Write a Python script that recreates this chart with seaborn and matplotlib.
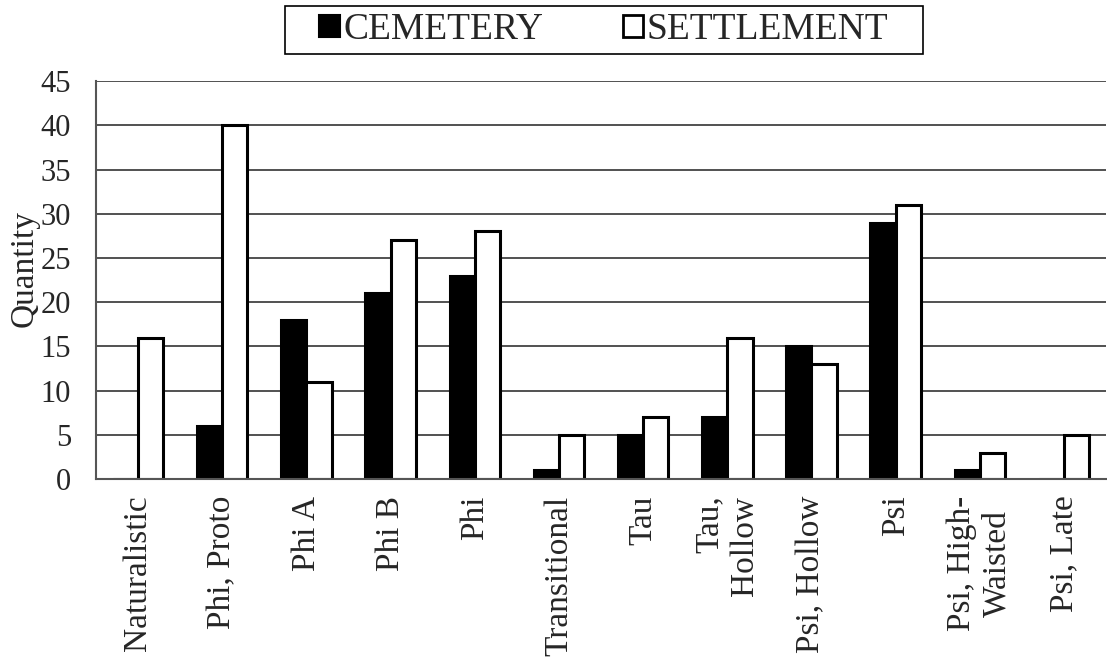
import pandas as pd
import numpy as np
import matplotlib
matplotlib.use("Agg")
import matplotlib.pyplot as plt
import seaborn as sns
from matplotlib.patches import Patch, Rectangle

categories = ["Naturalistic", "Phi, Proto", "Phi A", "Phi B", "Phi", "Transitional",
              "Tau", "Tau,\nHollow", "Psi, Hollow", "Psi", "Psi, High-\nWaisted", "Psi, Late"]
cemetery = [0, 6, 18, 21, 23, 1, 5, 7, 15, 29, 1, 0]
settlement = [16, 40, 11, 27, 28, 5, 7, 16, 13, 31, 3, 5]

df = pd.DataFrame({
    "Type": categories * 2,
    "Quantity": cemetery + settlement,
    "Site": ["CEMETERY"] * len(categories) + ["SETTLEMENT"] * len(categories),
})

sns.set_style("white")
plt.rcParams["font.family"] = ["Liberation Serif", "DejaVu Serif"]

fig = plt.figure(figsize=(11.07, 6.70), dpi=100)
ax = fig.add_axes([0.0867, 0.285, 0.9125, 0.594])

sns.barplot(data=df, x="Type", y="Quantity", hue="Site", order=categories,
            palette={"CEMETERY": "black", "SETTLEMENT": "white"},
            edgecolor="black", linewidth=2.2, width=0.6, ax=ax, legend=False)

ax.set_ylim(0, 45)
ax.set_xlim(-0.5, len(categories) - 0.5)
ax.set_yticks(np.arange(0, 46, 5))
ax.yaxis.grid(True, color="#222222", linewidth=1.1)
ax.set_axisbelow(True)

# tick marks between categories, labels at centres
ax.set_xticks(np.arange(len(categories)))
ax.set_xticklabels(categories, rotation=90, fontsize=24, va="top", ha="center")
ax.get_xticklabels()[7].set_multialignment("right")
ax.set_xticks(np.arange(-0.5, len(categories), 1), minor=True)
ax.tick_params(axis="x", which="major", length=0, pad=12)
ax.tick_params(axis="x", which="minor", length=8, width=1.3, color="#555555", direction="out")
ax.tick_params(axis="y", length=8, width=1.3, color="#555555", direction="out",
               labelsize=22, pad=10)

for s in ["top", "right"]:
    ax.spines[s].set_visible(False)
for s in ["left", "bottom"]:
    ax.spines[s].set_color("#555555")
    ax.spines[s].set_linewidth(1.5)

ax.set_xlabel("")
ax.set_ylabel("Quantity", fontsize=24)
ax.yaxis.set_label_coords(-0.056, 0.53)

# legend box above the plot
fig.patches.append(Rectangle((285 / 1107, 1 - 54 / 670), 638 / 1107, 48 / 670,
                             transform=fig.transFigure, facecolor="white",
                             edgecolor="black", linewidth=1.2))
handles = [Patch(facecolor="black", edgecolor="black", linewidth=1.5, label="CEMETERY"),
           Patch(facecolor="white", edgecolor="black", linewidth=2.0, label="SETTLEMENT")]
fig.legend(handles=handles, loc="center", bbox_to_anchor=(604 / 1107, 1 - 30 / 670), ncol=2,
           fontsize=27, frameon=False,
           handlelength=0.55, handleheight=0.55, handletextpad=0.1,
           columnspacing=2.1, borderpad=0, borderaxespad=0)

fig.savefig("out.png", dpi=100)
